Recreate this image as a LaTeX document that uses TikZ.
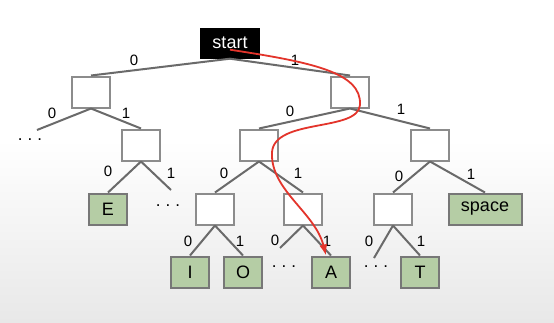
\documentclass[tikz,border=0pt]{standalone}
\usepackage{fontspec}
\setmainfont{Liberation Sans}
\usetikzlibrary{arrows.meta}
\definecolor{tleaf}{HTML}{B5CDA5}
\definecolor{tline}{HTML}{6A6A6A}
\definecolor{tbox}{HTML}{8C8C8C}
\definecolor{tpath}{HTML}{E3342B}

\begin{document}
\begin{tikzpicture}[x=1pt,y=-1pt,
  font=\fontsize{18}{21}\selectfont,
  inner/.style={draw=tbox,line width=2pt,fill=white,minimum width=38pt,
                minimum height=31pt,inner sep=0pt},
  leaf/.style={inner,fill=tleaf,draw=tbox!85!black},
  root/.style={fill=black,text=white,minimum width=60pt,minimum height=31pt,
               inner sep=0pt},
  edge/.style={draw=tline,line width=2pt},
  lbl/.style={font=\fontsize{15}{17}\selectfont,inner sep=0pt},
  more/.style={font=\fontsize{17}{19}\selectfont,inner sep=0pt},
  walk/.style={-{Latex[length=11pt,width=8pt]},tpath,line width=1.8pt}]
% background
\useasboundingbox (0,0) rectangle (554,322);
\fill[white] (0,0) rectangle (554,322);
\shade[top color=white,bottom color=black!9] (0,140) rectangle (554,322);
% nodes
\node[root] (st) at (230,43) {start};
\node[inner] (nL) at (91,92) {};
\node[inner] (nR) at (350,92) {};
\node[inner] (nLR) at (141,145) {};
\node[inner] (nRL) at (259,145) {};
\node[inner] (nRR) at (430,145) {};
\node[leaf] (lE) at (108,209) {E};
\node[inner] (nRLL) at (215,209) {};
\node[inner] (nRLR) at (303,209) {};
\node[inner] (nRRL) at (393,209) {};
\node[leaf,minimum width=73pt] (lSp) at (485,209) {space};
\node[leaf] (lI) at (190,272) {I};
\node[leaf] (lO) at (243,272) {O};
\node[leaf] (lA) at (331,272) {A};
\node[leaf] (lT) at (420,272) {T};
% open ends
\coordinate (fL) at (37,130);
\coordinate (fLR) at (171,190);
\coordinate (fRLR) at (280,248);
\coordinate (fRRL) at (374,258);
\node[more] (d1) at (30,140) {.\hspace{5pt}.\hspace{5pt}.};
\node[more] (d2) at (168,206) {.\hspace{5pt}.\hspace{5pt}.};
\node[more] (d3) at (284,267) {.\hspace{5pt}.\hspace{5pt}.};
\node[more] (d4) at (376,267) {.\hspace{5pt}.\hspace{5pt}.};
% edges
\draw[edge] (st.south) -- (nL.north) (134,60) node[lbl] (b1) {0};
\draw[edge] (st.south) -- (nR.north) (295,60) node[lbl] (b2) {1};
\draw[edge] (nL.south) -- (fL) (52,113) node[lbl] (b3) {0};
\draw[edge] (nL.south) -- (nLR.north) (126,113) node[lbl] (b4) {1};
\draw[edge] (nLR.south) -- (lE.north) (108,171) node[lbl] (b5) {0};
\draw[edge] (nLR.south) -- (fLR) (171,173) node[lbl] (b6) {1};
\draw[edge] (nR.south) -- (nRL.north) (290,111) node[lbl] (b7) {0};
\draw[edge] (nR.south) -- (nRR.north) (401,109) node[lbl] (b8) {1};
\draw[edge] (nRL.south) -- (nRLL.north) (224,173) node[lbl] (b9) {0};
\draw[edge] (nRL.south) -- (nRLR.north) (298,173) node[lbl] (b10) {1};
\draw[edge] (nRR.south) -- (nRRL.north) (399,176) node[lbl] (b11) {0};
\draw[edge] (nRR.south) -- (lSp.north) (471,174) node[lbl] (b12) {1};
\draw[edge] (nRLL.south) -- (lI.north) (188,241) node[lbl] (b13) {0};
\draw[edge] (nRLL.south) -- (lO.north) (240,241) node[lbl] (b14) {1};
\draw[edge] (nRLR.south) -- (fRLR) (275,240) node[lbl] (b15) {0};
\draw[edge] (nRLR.south) -- (lA.north) (327,241) node[lbl] (b16) {1};
\draw[edge] (nRRL.south) -- (fRRL) (369,241) node[lbl] (b17) {0};
\draw[edge] (nRRL.south) -- (lT.north) (421,241) node[lbl] (b18) {1};
% path to A
\draw[walk] ([yshift=9pt]st.south) .. controls (310,62) and (362,72) .. (360,105)
  .. controls (358,132) and (275,118) .. (272,152)
  .. controls (270,190) and (315,212) .. ([xshift=-5pt]lA.north);
\end{tikzpicture}
\end{document}
